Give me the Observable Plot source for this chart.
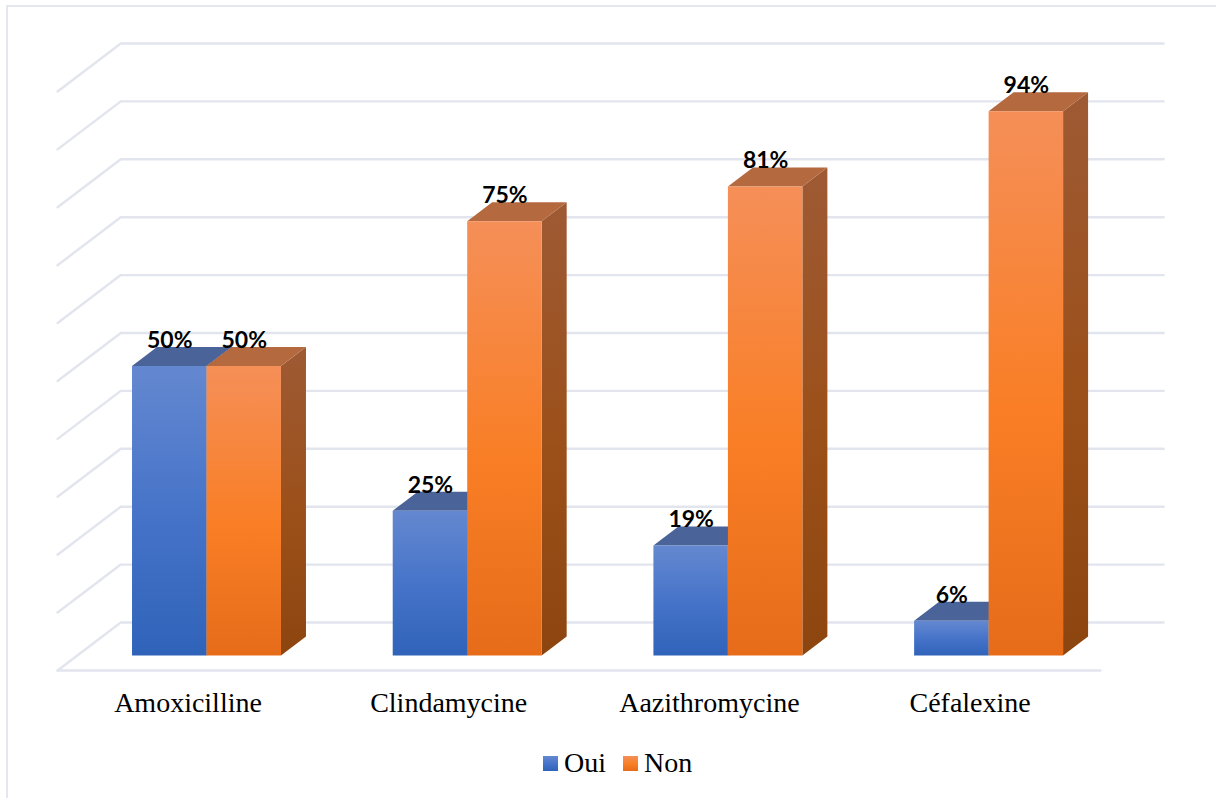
<!DOCTYPE html>
<html lang="fr">
<head>
<meta charset="utf-8">
<script src="https://cdn.jsdelivr.net/npm/d3@7"></script>
<script src="https://cdn.jsdelivr.net/npm/@observablehq/plot@0.6"></script>
<style>
  html, body { margin: 0; padding: 0; background: #fff; width: 1216px; height: 798px; overflow: hidden; }
  #frame { position: absolute; left: 6px; top: 5px; right: 0; bottom: 0; border-left: 2px solid #e4e8ee; border-top: 2px solid #e4e8ee; pointer-events: none; }
  #chart svg { display: block; }
  #legend { height: 56px; display: flex; align-items: center; padding-left: 543px; font: 28px "Liberation Serif", serif; color: #000; }
  #legend .item { display: flex; align-items: center; margin-right: 17px; }
  #legend .sw { width: 15px; height: 15px; margin-right: 6px; }
</style>
</head>
<body>
<div id="frame"></div>
<div id="chart"></div>
<div id="legend"></div>
<script>
const categories = ["Amoxicilline", "Clindamycine", "Aazithromycine", "Céfalexine"];
const oui = [50, 25, 19, 6];
const non = [50, 75, 81, 94];
const gridTicks = [0, 10, 20, 30, 40, 50, 60, 70, 80, 90, 100];
const seriesNames = ["Oui", "Non"];

// Pseudo-3D layout, in scale units
const barWidth = 0.2857;
const depthX = 0.02923;       // x units per unit of depth
const zWallFront = -2.5, zBarBack = 3.28, zWallBack = 5.79;
const X = (u, z = 0) => u + z * depthX;
const Y = (v, z = 0) => v + z;

const bars = categories.flatMap((c, i) => [
  {c, s: "Oui", v: oui[i], a: i + 0.5 - barWidth, b: i + 0.5},
  {c, s: "Non", v: non[i], a: i + 0.5, b: i + 0.5 + barWidth}
]);

// Faces of each box as pairs of edges for Plot.area
const sideFaces = bars.flatMap((d, k) => [
  {k, s: d.s, x1: X(d.b), y1: Y(0), x2: X(d.b), y2: Y(d.v)},
  {k, s: d.s, x1: X(d.b, zBarBack), y1: Y(0, zBarBack), x2: X(d.b, zBarBack), y2: Y(d.v, zBarBack)}
]);
const topFaces = bars.flatMap((d, k) => [
  {k, s: d.s, x1: X(d.a), y1: Y(d.v), x2: X(d.b), y2: Y(d.v)},
  {k, s: d.s, x1: X(d.a, zBarBack), y1: Y(d.v, zBarBack), x2: X(d.b, zBarBack), y2: Y(d.v, zBarBack)}
]);

const gridLines = gridTicks.flatMap(t => [
  {t, x: X(0, zWallFront), y: Y(t, zWallFront)},
  {t, x: X(0, zWallBack), y: Y(t, zWallBack)},
  {t, x: X(4, zWallBack), y: Y(t, zWallBack)}
]);
const floorFront = [
  {x: X(0, zWallFront), y: Y(0, zWallFront)},
  {x: X(4, zWallFront), y: Y(0, zWallFront)}
];

function gradient(id, stops) {
  const g = d3.create("svg:linearGradient").attr("id", id)
    .attr("x1", 0).attr("x2", 0).attr("y1", 0).attr("y2", 1);
  stops.forEach(([o, col]) => g.append("stop").attr("offset", o).attr("stop-color", col));
  return g.node();
}
const frontStops = {
  Oui: [[0, "#6488d0"], [0.55, "#4472c8"], [1, "#2f63b9"]],
  Non: [[0, "#f58f58"], [0.55, "#f97e25"], [1, "#e66c1a"]]
};
const defs = () => {
  const d = d3.create("svg:defs");
  d.append(() => gradient("gOui", frontStops.Oui));
  d.append(() => gradient("gNon", frontStops.Non));
  d.append(() => gradient("sOui", [[0, "#4a6398"], [1, "#2a4a85"]]));
  d.append(() => gradient("sNon", [[0, "#9e5a34"], [0.55, "#9c5019"], [1, "#8d450f"]]));
  return d.node();
};

const boxMarks = [];
bars.forEach((b, k) => {
  boxMarks.push(
    Plot.area(sideFaces.filter(d => d.k === k), {x1: "x1", y1: "y1", x2: "x2", y2: "y2", fill: `url(#s${b.s})`, curve: "linear"}),
    Plot.area(topFaces.filter(d => d.k === k), {x1: "x1", y1: "y1", x2: "x2", y2: "y2", fill: b.s === "Oui" ? "#4a6398" : "#b5693f", curve: "linear"}),
    Plot.rect([b], {x1: "a", x2: "b", y1: 0, y2: "v", fill: `url(#g${b.s})`})
  );
});

const plot = Plot.plot({
  width: 1216,
  height: 735,
  marginBottom: 65,
  x: {domain: [0, 4], range: [76.15, 1118.95], axis: null},
  y: {domain: [0, 100], range: [655.5, 76.5], axis: null},
  style: {fontFamily: "'Liberation Serif', serif", background: "transparent", overflow: "visible"},
  marks: [
    defs,
    Plot.line(gridLines, {x: "x", y: "y", z: "t", stroke: "#e2e5ee", strokeWidth: 2.4, curve: "linear"}),
    Plot.line(floorFront, {x: "x", y: "y", stroke: "#e2e5ee", strokeWidth: 2.4}),
    ...boxMarks,
    Plot.text(bars, {
      x: d => (d.a + d.b) / 2, y: "v", text: d => d.v + "%", dy: -26,
      fontFamily: "Lato, sans-serif", fontWeight: "bold", fontSize: 23, fill: "#000",
      textAnchor: "middle", lineAnchor: "middle"
    }),
    Plot.axisX({
      ticks: categories.map((c, i) => i + 0.5),
      tickFormat: v => categories[Math.floor(v)],
      tickSize: 0, tickPadding: 22, fontSize: 28, dx: -19,
      label: null, fill: "#000", anchor: "bottom"
    })
  ]
});
document.getElementById("chart").appendChild(plot);

const legend = document.getElementById("legend");
seriesNames.forEach(s => {
  const item = document.createElement("div");
  item.className = "item";
  const sw = document.createElement("span");
  sw.className = "sw";
  sw.style.background = `linear-gradient(${frontStops[s].map(([o, c]) => `${c} ${o * 100}%`).join(",")})`;
  const t = document.createElement("span");
  t.textContent = s;
  item.append(sw, t);
  legend.append(item);
});
</script>
</body>
</html>
